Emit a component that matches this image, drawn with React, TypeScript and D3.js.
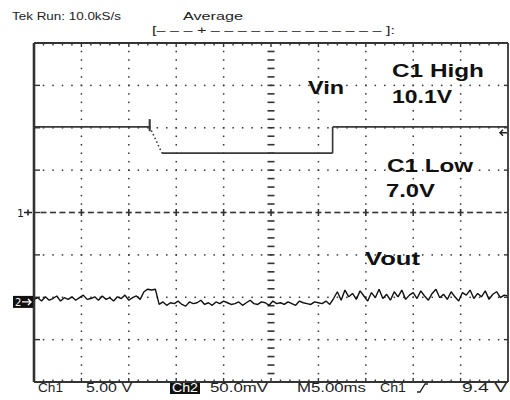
import React, { useRef, useEffect } from 'react';
import * as d3 from 'd3';

// Ch1 (Vin) trace, time in ms and level in volts
const vinTimeMs = [0, 12.2, 12.2, 12.2, 12.2, 13.5, 31.5, 31.5, 50];
const vinVolts = [10.1, 10.1, 11.0, 9.6, 10.1, 7.0, 7.0, 10.1, 10.1];

// Ch2 (Vout) trace, one sample every 0.4 ms, in mV
const voutStepMs = 0.4;
const voutMv = [
  3, 5, 1, 6, 2, 4, 7, 1, 5, 3, 6, 2, 5, 8, 3, 4, 6, 2, 7, 3, 5, 1, 6, 4, 8, 2, 5, 7, 3,
  12, 15, 14, 15,
  -3, 0, -4, -1, -2, 1, -3, -5, 0, -2, -1, 2, -3, -1, -4, 0, -2, 1, -1, -3, -2, 0, -4, -1, 2,
  -2, -3, 0, -1, -4, 1, -2, -1, -3, 0, -2, -4, 1, -1, -2, -3, 0, -1, -2, 1, -3,
  4, 12, 2, 14, 6, 10, 3, 13, 7, 1, 11, 5, 15, 4, 9, 2, 12, 6, 14, 3, 8, 11, 4, 13, 7, 2,
  10, 15, 5, 9, 3, 12, 6, 1, 11, 8, 14, 4, 10, 6, 13, 3, 9, 12, 5, 8, 7,
];

const triggerLevelV = 9.4;
const headerLine = ['Tek Run: 10.0kS/s', 'Average'];
const recordBar = '[– – – + – – – – – – – – – – – – – ]:';
const annotations = ['Vin', 'C1 High', '10.1V', 'C1 Low', '7.0V', 'Vout'];
const footer = ['Ch1', '5.00 V', 'Ch2', '50.0mV', 'M5.00ms', 'Ch1', '9.4 V'];

const App = () => {
  const ref = useRef<SVGSVGElement>(null);

  useEffect(() => {
    const svg = d3.select(ref.current);
    svg.selectAll('*').remove();

    const left = 34, right = 508, top = 43, bottom = 382;
    const gx = d3.scaleLinear().domain([0, 10]).range([left, right]);
    const gy = d3.scaleLinear().domain([0, 8]).range([top, bottom]);
    const x = d3.scaleLinear().domain([0, 50]).range([left, right]);
    // Ch1: 5 V/div, ground at centre
    const y1 = d3.scaleLinear().domain([-20, 20]).range([bottom, top]);
    // Ch2: 50 mV/div, ground 2.11 div below centre
    const y2 = d3.scaleLinear().domain([-94.5, 305.5]).range([bottom, top]);

    svg.append('rect').attr('width', 510).attr('height', 400).attr('fill', '#fff');

    const grid = svg.append('g').attr('fill', '#333');
    const minorX = d3.range(1, 50).map((i) => i / 5);
    const minorY = d3.range(1, 40).map((i) => i / 5);
    d3.range(1, 10).filter((k) => k !== 5).forEach((k) => {
      minorY.forEach((m) => {
        grid.append('rect').attr('x', gx(k) - 0.7).attr('y', gy(m) - 0.7)
          .attr('width', 1.5).attr('height', 1.5);
      });
    });
    d3.range(1, 8).filter((k) => k !== 4).forEach((k) => {
      minorX.forEach((m) => {
        grid.append('rect').attr('x', gx(m) - 0.7).attr('y', gy(k) - 0.7)
          .attr('width', 1.5).attr('height', 1.5);
      });
    });
    // centre cross
    minorY.forEach((m) => {
      grid.append('rect').attr('x', gx(5) - 3.5).attr('y', gy(m) - 0.8)
        .attr('width', 7).attr('height', 1.6);
    });
    minorX.forEach((m) => {
      grid.append('rect').attr('x', gx(m) - 3).attr('y', gy(4) - 0.8)
        .attr('width', 6).attr('height', 1.6);
      if (Math.abs(m - Math.round(m)) < 1e-6) {
        grid.append('rect').attr('x', gx(m) - 0.8).attr('y', gy(4) - 3.5)
          .attr('width', 1.6).attr('height', 7);
      }
    });

    // frame
    const frame = svg.append('g').attr('stroke', '#333').attr('fill', 'none');
    frame.append('line').attr('x1', left).attr('x2', left).attr('y1', top).attr('y2', bottom).attr('stroke-width', 2.6);
    frame.append('line').attr('x1', right).attr('x2', right).attr('y1', top).attr('y2', bottom).attr('stroke-width', 1.8);
    frame.append('line').attr('x1', left).attr('x2', right).attr('y1', top).attr('y2', top).attr('stroke-width', 1.8);
    frame.append('line').attr('x1', left).attr('x2', right).attr('y1', bottom).attr('y2', bottom).attr('stroke-width', 1.8);
    d3.range(1, 8).forEach((k) => {
      frame.append('line').attr('x1', left).attr('x2', left + 6).attr('y1', gy(k)).attr('y2', gy(k)).attr('stroke-width', 1.4);
      frame.append('line').attr('x1', right - 4).attr('x2', right).attr('y1', gy(k)).attr('y2', gy(k)).attr('stroke-width', 1.4);
    });
    minorX.forEach((m) => {
      const len = Math.abs(m - Math.round(m)) < 1e-6 ? 4 : 2.5;
      frame.append('line').attr('x1', gx(m)).attr('x2', gx(m)).attr('y1', top).attr('y2', top + len).attr('stroke-width', 1.4);
      frame.append('line').attr('x1', gx(m)).attr('x2', gx(m)).attr('y1', bottom - len).attr('y2', bottom).attr('stroke-width', 1.4);
    });

    svg.append('clipPath').attr('id', 'scr').append('rect')
      .attr('x', left + 1).attr('y', top + 1).attr('width', right - left - 2).attr('height', bottom - top - 2);
    const traces = svg.append('g').attr('clip-path', 'url(#scr)');

    // Vin
    const vin = vinTimeMs.map((t, i) => ({ t, v: vinVolts[i] }));
    vin.slice(1).forEach((d, i) => {
      const p = vin[i];
      const sloped = p.t !== d.t && p.v !== d.v;
      traces.append('line')
        .attr('x1', x(p.t)).attr('y1', y1(p.v)).attr('x2', x(d.t)).attr('y2', y1(d.v))
        .attr('stroke', '#3a3a3a').attr('stroke-width', sloped ? 1.6 : 1.7)
        .attr('stroke-dasharray', sloped ? '1.5 2.5' : null);
    });

    // Vout
    const line = d3.line<number>()
      .x((_, i) => x(i * voutStepMs))
      .y((d) => y2(d));
    traces.append('path').datum(voutMv)
      .attr('fill', 'none').attr('stroke', '#111').attr('stroke-width', 1.4)
      .attr('stroke-linejoin', 'bevel').attr('d', line);

    // trigger level marker
    const ty = y1(triggerLevelV);
    svg.append('path')
      .attr('d', `M${right - 1},${ty} H${right - 8} M${right - 5},${ty - 3} L${right - 8},${ty} L${right - 5},${ty + 3}`)
      .attr('stroke', '#222').attr('stroke-width', 1.5).attr('fill', 'none');

    // channel ground markers
    const gy1 = y1(0);
    svg.append('text').attr('x', 17).attr('y', gy1 + 4).attr('font-family', 'DejaVu Sans')
      .attr('font-size', 11).attr('fill', '#222').text('1');
    svg.append('path').attr('d', `M24,${gy1} H32 M28,${gy1 - 3} V${gy1 + 3}`)
      .attr('stroke', '#222').attr('stroke-width', 1.5);
    const gy2 = y2(0);
    svg.append('rect').attr('x', 13).attr('y', gy2 - 6).attr('width', 20).attr('height', 12).attr('fill', '#111');
    svg.append('text').attr('x', 15).attr('y', gy2 + 4).attr('font-family', 'DejaVu Sans')
      .attr('font-size', 10).attr('fill', '#fff').text('2');
    svg.append('path').attr('d', `M22,${gy2} H31 M28,${gy2 - 3} L31,${gy2} L28,${gy2 + 3}`)
      .attr('stroke', '#fff').attr('stroke-width', 1.4).attr('fill', 'none');

    // header
    const txt = (s: string, px: number, py: number, w: number, size: number, bold = false, fill = '#222') =>
      svg.append('text').attr('x', px).attr('y', py).attr('font-family', 'Liberation Sans, Arial, sans-serif')
        .attr('font-size', size).attr('font-weight', bold ? 'bold' : 'normal').attr('fill', fill)
        .attr('textLength', w).attr('lengthAdjust', 'spacingAndGlyphs').text(s);
    txt(headerLine[0], 12, 20, 109, 11);
    txt(headerLine[1], 183, 20, 60, 11);
    txt(recordBar, 152, 34, 243, 10);

    // annotations
    const ann: [number, number, number][] = [
      [308, 94, 36], [392, 77, 92], [392, 103, 60], [387, 172, 86], [386, 197, 49], [365, 265, 55],
    ];
    annotations.forEach((s, i) => {
      const [px, py, w] = ann[i];
      txt(s, px, py, w, 18, true, '#111');
    });

    // footer
    svg.append('rect').attr('x', 170).attr('y', 383).attr('width', 30).attr('height', 11).attr('fill', '#111');
    const foot: [number, number][] = [
      [38, 25], [86, 46], [172, 26], [210, 58], [297, 69], [380, 26], [462, 45],
    ];
    footer.forEach((s, i) => {
      const [px, w] = foot[i];
      txt(s, px, 392, w, 12, false, i === 2 ? '#fff' : '#222');
    });
    svg.append('path').attr('d', 'M417,392 L420,392 L425,384 L428,384')
      .attr('stroke', '#222').attr('stroke-width', 1.3).attr('fill', 'none');
  }, []);

  return <svg ref={ref} width={510} height={400} style={{ position: 'absolute', left: 0, top: 0 }} />;
};

export default App;
